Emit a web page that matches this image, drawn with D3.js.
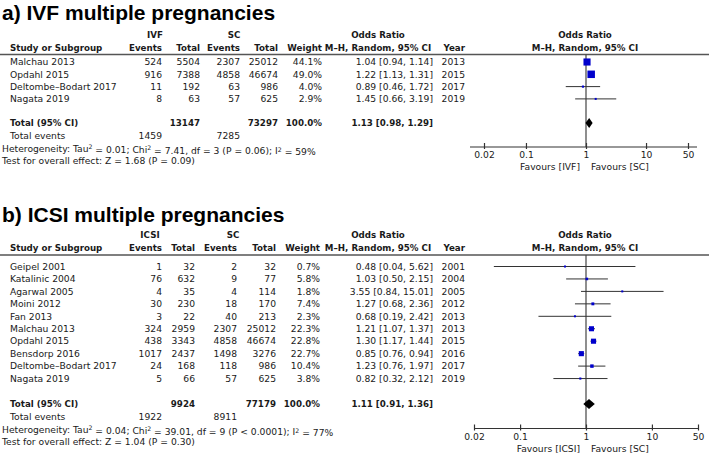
<!DOCTYPE html>
<html><head><meta charset="utf-8">
<script src="https://cdn.jsdelivr.net/npm/d3@7"></script>
<style>
html,body{margin:0;padding:0;background:#fff;}
svg{display:block;}
.t{font-family:"DejaVu Sans","Noto Sans",sans-serif;font-size:9.2px;fill:#1a1a1a;}
.b{font-weight:bold;font-size:8.7px;}
.title{font-family:"Liberation Sans",Arial,Helvetica,sans-serif;font-weight:bold;font-size:21px;fill:#000;}
</style>
</head><body>
<svg id="c" width="709" height="455"></svg>
<script>
// ---------- Panel a) IVF ----------
const studiesA = ["Malchau 2013","Opdahl 2015","Deltombe–Bodart 2017","Nagata 2019"];
const expEventsA = [524,916,11,8];
const expTotalA = [5504,7388,192,63];
const ctlEventsA = [2307,4858,63,57];
const ctlTotalA = [25012,46674,986,625];
const weightA = [44.1,49.0,4.0,2.9];
const orA = [1.04,1.22,0.89,1.45];
const loA = [0.94,1.13,0.46,0.66];
const hiA = [1.14,1.31,1.72,3.19];
const yearA = [2013,2015,2017,2019];
const totalA = {exp:13147, ctl:73297, or:1.13, lo:0.98, hi:1.29, expEv:1459, ctlEv:7285};
const hetA = ["Heterogeneity: Tau","2"," = 0.01; Chi","2"," = 7.41, df = 3 (P = 0.06); I","2"," = 59%"];
const testA = "Test for overall effect: Z = 1.68 (P = 0.09)";

// ---------- Panel b) ICSI ----------
const studiesB = ["Geipel 2001","Katalinic 2004","Agarwal 2005","Moini 2012","Fan 2013","Malchau 2013","Opdahl 2015","Bensdorp 2016","Deltombe–Bodart 2017","Nagata 2019"];
const expEventsB = [1,76,4,30,3,324,438,1017,24,5];
const expTotalB = [32,632,35,230,22,2959,3343,2437,168,66];
const ctlEventsB = [2,9,4,18,40,2307,4858,1498,118,57];
const ctlTotalB = [32,77,114,170,213,25012,46674,3276,986,625];
const weightB = [0.7,5.8,1.8,7.4,2.3,22.3,22.8,22.7,10.4,3.8];
const orB = [0.48,1.03,3.55,1.27,0.68,1.21,1.30,0.85,1.23,0.82];
const loB = [0.04,0.50,0.84,0.68,0.19,1.07,1.17,0.76,0.76,0.32];
const hiB = [5.62,2.15,15.01,2.36,2.42,1.37,1.44,0.94,1.97,2.12];
const yearB = [2001,2004,2005,2012,2013,2013,2015,2016,2017,2019];
const totalB = {exp:9924, ctl:77179, or:1.11, lo:0.91, hi:1.36, expEv:1922, ctlEv:8911};
const hetB = ["Heterogeneity: Tau","2"," = 0.04; Chi","2"," = 39.01, df = 9 (P < 0.0001); I","2"," = 77%"];
const testB = "Test for overall effect: Z = 1.04 (P = 0.30)";

const axisTicks = [0.02,0.1,1,10,50];
const axisTickLabels = ["0.02","0.1","1","10","50"];

const svg = d3.select("#c");
const f2 = d3.format(".2f");
const sqSize = d3.scaleSqrt().domain([0,100]).range([0,10.7]);

function drawPanel(p){
  const g = svg.append("g");
  const txt = (x,y,s,anchor,bold)=> g.append("text").attr("class","t"+(bold?" b":""))
      .attr("x",x).attr("y",y).attr("dy","0.35em").attr("text-anchor",anchor||"start").text(s);

  g.append("text").attr("class","title").attr("x",2).attr("y",p.titleY).text(p.title);

  // headers
  txt(p.grpX1,p.h1,p.expName,"middle",true);
  txt(p.grpX2,p.h1,"SC","middle",true);
  txt(378,p.h1,"Odds Ratio","middle",true);
  txt(585,p.h1,"Odds Ratio","middle",true);
  txt(10,p.h2,"Study or Subgroup","start",true);
  txt(p.c[0],p.h2,"Events","end",true);
  txt(p.c[1],p.h2,"Total","end",true);
  txt(p.c[2],p.h2,"Events","end",true);
  txt(p.c[3],p.h2,"Total","end",true);
  txt(p.c[4],p.h2,"Weight","end",true);
  txt(378,p.h2,"M–H, Random, 95% CI","middle",true);
  txt(465,p.h2,"Year","end",true);
  txt(585,p.h2,"M–H, Random, 95% CI","middle",true);
  g.append("line").attr("x1",0).attr("x2",709).attr("y1",p.line).attr("y2",p.line)
    .attr("stroke","#555").attr("stroke-width",1.4);

  const x = d3.scaleLog().domain([0.02,50]).range(p.range);
  const yRow = d3.scaleLinear().domain([0,1]).range([p.row0,p.row0+p.step]);

  // vertical line at 1
  g.append("line").attr("x1",x(1)).attr("x2",x(1)).attr("y1",p.line).attr("y2",p.axisY)
    .attr("stroke","#444").attr("stroke-width",1.2);

  p.studies.forEach((s,i)=>{
    const y = yRow(i);
    txt(10,y,s);
    txt(p.c[0],y,p.ee[i],"end");
    txt(p.c[1],y,p.et[i],"end");
    txt(p.c[2],y,p.ce[i],"end");
    txt(p.c[3],y,p.ct[i],"end");
    txt(p.c[4],y,p.w[i].toFixed(1)+"%","end");
    txt(433,y,f2(p.or[i])+" ["+f2(p.lo[i])+", "+f2(p.hi[i])+"]","end");
    txt(465,y,p.yr[i],"end");
    g.append("line").attr("x1",x(p.lo[i])).attr("x2",x(p.hi[i])).attr("y1",y).attr("y2",y)
      .attr("stroke","#333").attr("stroke-width",1);
    const sz = Math.max(2,sqSize(p.w[i]));
    g.append("rect").attr("x",x(p.or[i])-sz/2).attr("y",y-sz/2).attr("width",sz).attr("height",sz)
      .attr("fill","#0000cc");
  });

  // total row
  txt(10,p.totY,"Total (95% CI)","start",true);
  txt(p.c[1],p.totY,p.tot.exp,"end",true);
  txt(p.c[3],p.totY,p.tot.ctl,"end",true);
  txt(p.c[4],p.totY,"100.0%","end",true);
  txt(433,p.totY,f2(p.tot.or)+" ["+f2(p.tot.lo)+", "+f2(p.tot.hi)+"]","end",true);
  const dh = 5;
  g.append("path").attr("d",`M${x(p.tot.lo)},${p.totY} L${x(p.tot.or)},${p.totY-dh} L${x(p.tot.hi)},${p.totY} L${x(p.tot.or)},${p.totY+dh} Z`)
    .attr("fill","#000");

  txt(10,p.evY,"Total events");
  txt(p.c[0],p.evY,p.tot.expEv,"end");
  txt(p.c[2],p.evY,p.tot.ctlEv,"end");

  const het = g.append("text").attr("class","t").attr("x",2).attr("y",p.hetY).attr("dy","0.35em");
  p.het.forEach((s,i)=>{
    if(i%2===1){
      het.append("tspan").attr("dy","-0.4em").attr("font-size","6.2px").text(s);
    } else if(i>0){
      het.append("tspan").attr("dy","0.4em").text(s);
    } else het.append("tspan").text(s);
  });
  txt(2,p.testY,p.test);

  // axis
  g.append("line").attr("x1",p.axisLine[0]).attr("x2",p.axisLine[1]).attr("y1",p.axisY).attr("y2",p.axisY)
    .attr("stroke","#333").attr("stroke-width",1.2);
  const ax = g.append("g").attr("transform",`translate(0,${p.axisY})`)
    .call(d3.axisBottom(x).tickValues(axisTicks).tickFormat((d,i)=>axisTickLabels[i]).tickSize(0).tickPadding(4.5));
  ax.select(".domain").remove();
  ax.selectAll(".tick line").attr("y1",-4).attr("y2",2).attr("stroke","#333").attr("stroke-width",1.2);
  ax.selectAll(".tick text").attr("class","t").attr("fill","#1a1a1a").attr("dy","0.71em");
  txt(x(1)-6,p.axisY+20,"Favours ["+p.expName+"]","end");
  txt(x(1)+5,p.axisY+20,"Favours [SC]","start");
}

drawPanel({
  title:"a) IVF multiple pregnancies", titleY:20, expName:"IVF", grpX1:155, grpX2:234,
  h1:35, h2:48, line:54.5, row0:62, step:12.3, totY:123, evY:136, hetY:148.5, testY:161,
  axisY:147, range:[484,688], axisLine:[470,697], c:[162,200,240,278,322],
  studies:studiesA, ee:expEventsA, et:expTotalA, ce:ctlEventsA, ct:ctlTotalA, w:weightA,
  or:orA, lo:loA, hi:hiA, yr:yearA, tot:totalA, het:hetA, test:testA
});
drawPanel({
  title:"b) ICSI multiple pregnancies", titleY:222, expName:"ICSI", grpX1:150, grpX2:233,
  h1:234.5, h2:247.5, line:255, row0:266.5, step:12.45, totY:404, evY:417, hetY:429.5, testY:442,
  axisY:428.5, range:[474,698], axisLine:[474,698], c:[162,195,237,276,320],
  studies:studiesB, ee:expEventsB, et:expTotalB, ce:ctlEventsB, ct:ctlTotalB, w:weightB,
  or:orB, lo:loB, hi:hiB, yr:yearB, tot:totalB, het:hetB, test:testB
});
</script>
</body></html>
